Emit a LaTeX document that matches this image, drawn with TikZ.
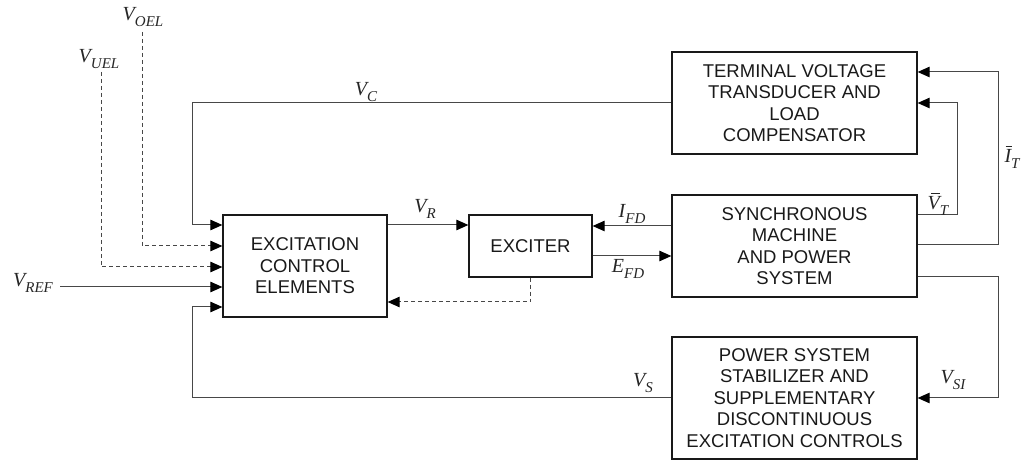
\documentclass[tikz,border=0pt]{standalone}
\usepackage{fontspec}
\setmainfont{Liberation Sans}
\newfontfamily\tms{Liberation Serif}
\usetikzlibrary{arrows.meta,calc}
\newcommand{\vlab}[2]{{\tms\itshape\fontsize{20}{20}\selectfont #1\raisebox{-0.28em}{\fontsize{15}{15}\selectfont #2}}}
\newcommand{\vbarlab}[4]{{\tms\itshape\fontsize{20}{20}\selectfont\rlap{\hspace{#3}\rule[0.78em]{#4}{0.05em}}#1\raisebox{-0.28em}{\fontsize{15}{15}\selectfont #2}}}
\tikzset{
  blk/.style={draw=black!90, line width=1.3pt, align=center, inner sep=0pt,
    font=\fontsize{18.5}{21.5}\selectfont, text=black!90},
  wire/.style={draw=black!72, line width=1pt},
  arr/.style={wire, -{Triangle[length=12pt,width=10.5pt,fill=black,color=black]}},
  dsh/.style={dash pattern=on 4pt off 3pt},
  lab/.style={inner sep=0pt, text=black!85}
}
\begin{document}
\begin{tikzpicture}[x=1pt,y=-1pt]
\useasboundingbox (0,0) rectangle (1026,462);
% blocks
\node[blk, minimum width=164pt, minimum height=102pt] (ece) at (305,266) {EXCITATION\\CONTROL\\ELEMENTS};
\node[blk, minimum width=123pt, minimum height=62pt] (exc) at (530.5,246) {EXCITER};
\node[blk, minimum width=245pt, minimum height=102pt] (sm) at (794.5,246) {SYNCHRONOUS\\MACHINE\\AND POWER\\SYSTEM};
\node[blk, minimum width=245pt, minimum height=102pt] (tvt) at (794.5,103) {TERMINAL VOLTAGE\\TRANSDUCER AND\\LOAD\\COMPENSATOR};
\node[blk, minimum width=245pt, minimum height=122pt] (pss) at (794.5,398) {POWER SYSTEM\\STABILIZER AND\\SUPPLEMENTARY\\DISCONTINUOUS\\EXCITATION CONTROLS};
% free ends
\coordinate (oel) at (142,32);
\coordinate (uel) at (101,72);
\coordinate (ref) at (60,287);
% connectors into ECE
\draw[arr] (tvt.west) -| (192,225) -- (ece.west |- 0,225);
\draw[arr,dsh] (oel) |- (ece.west |- 0,246);
\draw[arr,dsh] (uel) |- (ece.west |- 0,267);
\draw[arr] (ref) -- (ece.west |- 0,287);
\draw[arr] (pss.west) -| (192,307) -- (ece.west |- 0,307);
% ECE <-> exciter
\draw[arr] (ece.east |- 0,225) -- (exc.west |- 0,225);
\draw[arr,dsh] (exc.south) |- (ece.east |- 0,302);
% exciter <-> machine
\draw[arr] (sm.west |- 0,226) -- (exc.east |- 0,226);
\draw[arr] (exc.east |- 0,256) -- (sm.west |- 0,256);
% machine feedbacks
\draw[arr] (sm.east |- 0,215) -| (957,103) -- (tvt.east);
\draw[arr] (sm.east |- 0,245) -| (998,72) -- (tvt.east |- 0,72);
\draw[arr] (sm.east |- 0,277) -| (998,398) -- (pss.east);
% labels
\node[lab] (loel) at (143,17) {\vlab{V}{OEL}};
\node[lab] (luel) at (99,59) {\vlab{V}{UEL}};
\node[lab] (lref) at (33,283) {\vlab{V}{REF}};
\node[lab] (lc) at (366,92) {\vlab{V}{C}};
\node[lab] (lr) at (425,209) {\vlab{V}{R}};
\node[lab] (lifd) at (632,214) {\vlab{I}{FD}};
\node[lab] (lefd) at (628,269) {\vlab{E}{FD}};
\node[lab] (lvt) at (938,204) {\vbarlab{V}{T}{0.16em}{0.45em}};
\node[lab] (lit) at (1012,157) {\vbarlab{I}{T}{0.05em}{0.32em}};
\node[lab] (ls) at (643,383) {\vlab{V}{S}};
\node[lab] (lsi) at (953,380) {\vlab{V}{SI}};
\end{tikzpicture}
\end{document}
